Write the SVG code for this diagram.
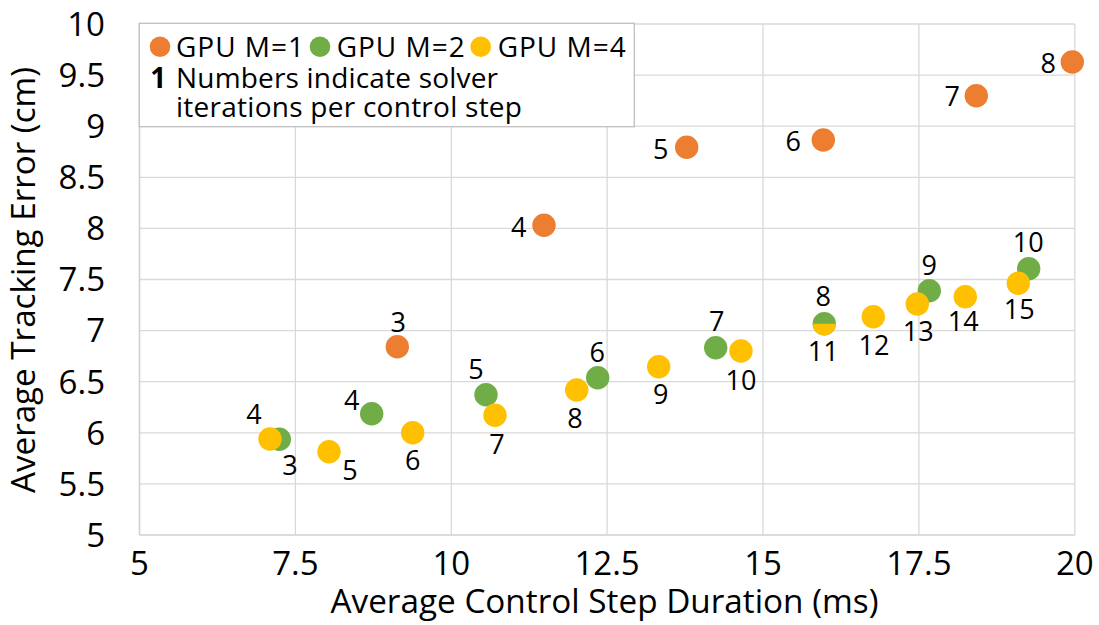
<svg xmlns="http://www.w3.org/2000/svg" width="1099" height="625" viewBox="0 0 1099 625">
  <style>
    text { font-family: "Open Sans", "Liberation Sans", sans-serif; fill: #000; }
    .grid line { stroke: #d9d9d9; stroke-width: 1.3; }
    .axis line { stroke: #d0d0d0; stroke-width: 1.6; }
    .tick { font-size: 33px; }
    .ytick { text-anchor: end; }
    .xtick { text-anchor: middle; }
    .title { font-size: 33px; text-anchor: middle; }
    .lbl { font-size: 27px; text-anchor: middle; }
    .leg { font-size: 28px; }
    .m1 circle, .m1 path { fill: #ed7d31; }
    .m2 circle, .m2 path { fill: #70ad47; }
    .m4 circle, .m4 path { fill: #ffc000; }
  </style>

  <rect width="1099" height="625" fill="#ffffff"/>

  <!-- gridlines: x = 139.5 + (v-5)*62.35, y = 535 - (v-5)*102.2 -->
  <g id="gridlines" class="grid">
    <line x1="139.5" y1="483.9" x2="1074.8" y2="483.9"/>
    <line x1="139.5" y1="432.8" x2="1074.8" y2="432.8"/>
    <line x1="139.5" y1="381.7" x2="1074.8" y2="381.7"/>
    <line x1="139.5" y1="330.6" x2="1074.8" y2="330.6"/>
    <line x1="139.5" y1="279.5" x2="1074.8" y2="279.5"/>
    <line x1="139.5" y1="228.4" x2="1074.8" y2="228.4"/>
    <line x1="139.5" y1="177.3" x2="1074.8" y2="177.3"/>
    <line x1="139.5" y1="126.2" x2="1074.8" y2="126.2"/>
    <line x1="139.5" y1="75.1" x2="1074.8" y2="75.1"/>
    <line x1="139.5" y1="24" x2="1074.8" y2="24"/>
    <line x1="295.4" y1="24" x2="295.4" y2="535"/>
    <line x1="451.3" y1="24" x2="451.3" y2="535"/>
    <line x1="607.1" y1="24" x2="607.1" y2="535"/>
    <line x1="763" y1="24" x2="763" y2="535"/>
    <line x1="918.9" y1="24" x2="918.9" y2="535"/>
    <line x1="1074.8" y1="24" x2="1074.8" y2="535"/>
  </g>

  <g id="axes" class="axis">
    <line x1="139.5" y1="24" x2="139.5" y2="535"/>
    <line x1="139.5" y1="535" x2="1074.8" y2="535"/>
  </g>

  <!-- y tick labels -->
  <g id="y-ticks" class="tick ytick">
    <text x="105" y="546.8">5</text>
    <text x="105" y="495.7">5.5</text>
    <text x="105" y="444.6">6</text>
    <text x="105" y="393.5">6.5</text>
    <text x="105" y="342.4">7</text>
    <text x="105" y="291.3">7.5</text>
    <text x="105" y="240.2">8</text>
    <text x="105" y="189.1">8.5</text>
    <text x="105" y="138">9</text>
    <text x="105" y="86.9">9.5</text>
    <text x="105" y="35.8">10</text>
  </g>

  <!-- x tick labels -->
  <g id="x-ticks" class="tick xtick">
    <text x="139.5" y="575">5</text>
    <text x="295.4" y="575">7.5</text>
    <text x="451.3" y="575">10</text>
    <text x="607.1" y="575">12.5</text>
    <text x="763" y="575">15</text>
    <text x="918.9" y="575">17.5</text>
    <text x="1074.8" y="575">20</text>
  </g>

  <!-- axis titles -->
  <text id="x-title" class="title" x="604.5" y="613" textLength="548" lengthAdjust="spacingAndGlyphs">Average Control Step Duration (ms)</text>
  <text id="y-title" class="title" transform="translate(35,280) rotate(-90)" textLength="426" lengthAdjust="spacingAndGlyphs">Average Tracking Error (cm)</text>

  <!-- series GPU M=1 -->
  <g id="series-m1" class="m1">
    <g id="m1-3"><circle cx="397.3" cy="346.7" r="11.7"/><text class="lbl" x="398.3" y="332.4">3</text></g>
    <g id="m1-4"><circle cx="544" cy="225.3" r="11.7"/><text class="lbl" x="518.7" y="237.4">4</text></g>
    <g id="m1-5"><circle cx="686.7" cy="147.3" r="11.7"/><text class="lbl" x="660.7" y="158.9">5</text></g>
    <g id="m1-6"><circle cx="823.3" cy="140" r="11.7"/><text class="lbl" x="793.3" y="151.3">6</text></g>
    <g id="m1-7"><circle cx="976.3" cy="95.7" r="11.7"/><text class="lbl" x="952.3" y="106.3">7</text></g>
    <g id="m1-8"><circle cx="1072.3" cy="62" r="11.7"/><text class="lbl" x="1048.3" y="72.9">8</text></g>
  </g>

  <!-- series GPU M=2 -->
  <g id="series-m2" class="m2">
    <g id="m2-3"><circle cx="279.3" cy="439.3" r="11.7"/><text class="lbl" x="290" y="474.6">3</text></g>
    <g id="m2-4"><circle cx="371.7" cy="413.7" r="11.7"/><text class="lbl" x="351.7" y="409.6">4</text></g>
    <g id="m2-5"><circle cx="486" cy="394.7" r="11.7"/><text class="lbl" x="476" y="378.9">5</text></g>
    <g id="m2-6"><circle cx="597.7" cy="377.7" r="11.7"/><text class="lbl" x="597.3" y="361.9">6</text></g>
    <g id="m2-7"><circle cx="715.7" cy="347.7" r="11.7"/><text class="lbl" x="716.7" y="331.3">7</text></g>
    <g id="m2-8"><circle cx="824.3" cy="323.7" r="11.7"/><text class="lbl" x="823.3" y="306.3">8</text></g>
    <g id="m2-9"><circle cx="929.3" cy="290.7" r="11.7"/><text class="lbl" x="929.3" y="274.6">9</text></g>
    <g id="m2-10"><circle cx="1028.7" cy="268.7" r="11.7"/><text class="lbl" x="1028.3" y="252.3">10</text></g>
  </g>

  <!-- series GPU M=4 -->
  <g id="series-m4" class="m4">
    <g id="m4-4"><circle cx="270" cy="439" r="11.7"/><text class="lbl" x="254" y="423.6">4</text></g>
    <g id="m4-5"><circle cx="329" cy="451.7" r="11.7"/><text class="lbl" x="350" y="479.6">5</text></g>
    <g id="m4-6"><circle cx="412.7" cy="432.7" r="11.7"/><text class="lbl" x="412.7" y="470.3">6</text></g>
    <g id="m4-7"><circle cx="495" cy="415.3" r="11.7"/><text class="lbl" x="497" y="453.6">7</text></g>
    <g id="m4-8"><circle cx="576.7" cy="390" r="11.7"/><text class="lbl" x="575" y="427.6">8</text></g>
    <g id="m4-9"><circle cx="658.7" cy="366.7" r="11.7"/><text class="lbl" x="660.7" y="403.9">9</text></g>
    <g id="m4-10"><circle cx="741" cy="351" r="11.7"/><text class="lbl" x="741" y="390.3">10</text></g>
    <!-- lower half only: shares its spot with m2-8 -->
    <g id="m4-11"><path d="M812.6 323.7 A11.7 11.7 0 0 0 836 323.7 Z"/><text class="lbl" x="823.3" y="361.3">11</text></g>
    <g id="m4-12"><circle cx="873.3" cy="316.7" r="11.7"/><text class="lbl" x="874" y="354.6">12</text></g>
    <g id="m4-13"><circle cx="917.3" cy="304" r="11.7"/><text class="lbl" x="918.3" y="340.6">13</text></g>
    <g id="m4-14"><circle cx="965.3" cy="296.7" r="11.7"/><text class="lbl" x="963.3" y="331.3">14</text></g>
    <g id="m4-15"><circle cx="1018.3" cy="283.3" r="11.7"/><text class="lbl" x="1019.3" y="318.6">15</text></g>
  </g>

  <!-- legend: one text block, lines placed as tspans -->
  <g id="legend">
    <rect x="139.3" y="23.3" width="495" height="103.4" fill="#ffffff" stroke="#bfbfbf" stroke-width="1.3"/>
    <g class="m1"><circle cx="160" cy="46.7" r="10.3"/></g>
    <g class="m2"><circle cx="320" cy="46.7" r="10.3"/></g>
    <g class="m4"><circle cx="480.7" cy="46.7" r="10.3"/></g>
    <text class="leg"><tspan x="176" y="56.7" textLength="128" lengthAdjust="spacing">GPU M=1</tspan><tspan x="336.7" y="56.7" textLength="128" lengthAdjust="spacing">GPU M=2</tspan><tspan x="497.7" y="56.7" textLength="128" lengthAdjust="spacing">GPU M=4</tspan><tspan x="150.2" y="88.3" font-weight="bold">1</tspan><tspan x="176" y="88.3" textLength="322" lengthAdjust="spacing">Numbers indicate solver</tspan><tspan x="176" y="117.3" textLength="346" lengthAdjust="spacing">iterations per control step</tspan></text>
  </g>
</svg>
